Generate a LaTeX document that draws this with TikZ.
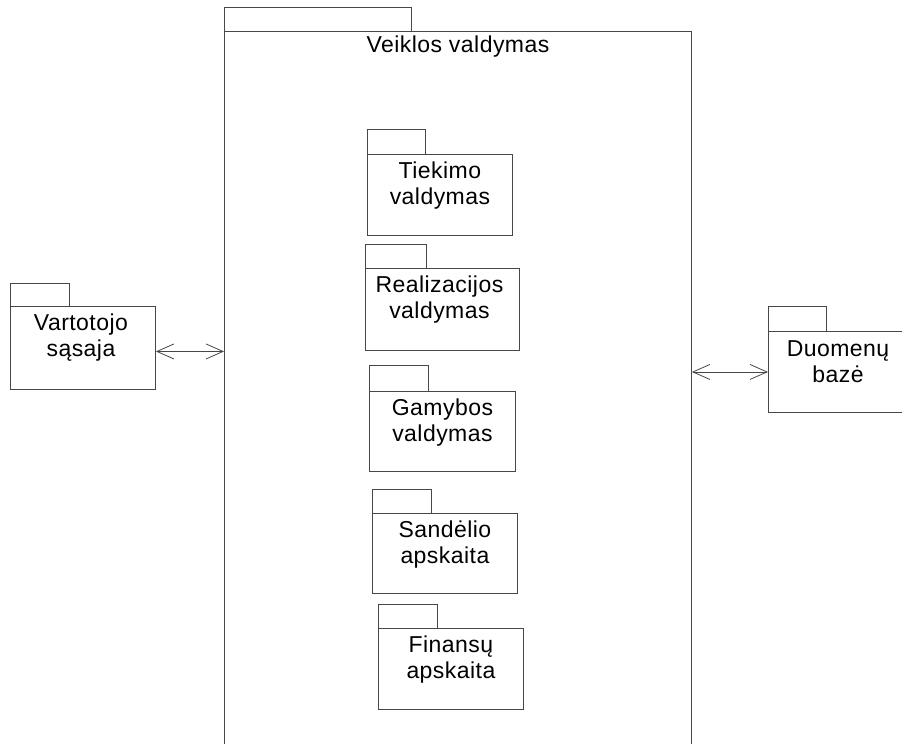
\documentclass[tikz,border=0pt]{standalone}
\usepackage{fontspec}
\setmainfont[LetterSpace=2]{Liberation Sans}
\usetikzlibrary{arrows.meta}
\begin{document}
\begin{tikzpicture}[x=1pt,y=-1pt,
  pkgline/.style={draw=black!72,line width=0.9pt},
  pkgbody/.style={pkgline,rectangle,inner sep=0pt,anchor=north west,fill=white},
  pkgtext/.style={inner sep=0pt,anchor=north,align=center,
    font=\fontsize{23}{26}\selectfont,yshift=-8pt},
  link/.style={draw=black!72,line width=0.8pt,
    {Straight Barb[length=17pt,width=15pt,line width=0.8pt]}-{Straight Barb[length=17pt,width=15pt,line width=0.8pt]}}
]
\useasboundingbox (0,0) rectangle (902,744);
\clip (0,0) rectangle (902,744);
\fill[white] (0,0) rectangle (902,744);

% outer package
\node[pkgbody,minimum width=467pt,minimum height=740pt] (veik) at (224,31) {};
\draw[pkgline] (veik.north west) rectangle ++(187,-24);
\node[pkgtext,yshift=3pt] (veikT) at (veik.north) {Veiklos valdymas};

% side packages
\node[pkgbody,minimum width=145pt,minimum height=83pt] (vart) at (10,306) {};
\draw[pkgline] (vart.north west) rectangle ++(59,-23);
\node[pkgtext,xshift=-2pt] (vartT) at (vart.north) {Vartotojo\\sąsaja};

\node[pkgbody,minimum width=200pt,minimum height=81pt] (duom) at (768,331) {};
\draw[pkgline] (duom.north west) rectangle ++(58,-25);
\node[pkgtext,yshift=-1.5pt] (duomT) at ([xshift=70pt]duom.north west) {Duomenų\\bazė};

% inner packages
\node[pkgbody,minimum width=145pt,minimum height=81pt] (tiek) at (367,154) {};
\draw[pkgline] (tiek.north west) rectangle ++(58,-25);
\node[pkgtext] (tiekT) at (tiek.north) {Tiekimo\\valdymas};

\node[pkgbody,minimum width=154pt,minimum height=82pt] (real) at (365,268) {};
\draw[pkgline] (real.north west) rectangle ++(61,-24);
\node[pkgtext,xshift=-3pt] (realT) at (real.north) {Realizacijos\\valdymas};

\node[pkgbody,minimum width=146pt,minimum height=80pt] (gamy) at (369,391) {};
\draw[pkgline] (gamy.north west) rectangle ++(59,-26);
\node[pkgtext] (gamyT) at (gamy.north) {Gamybos\\valdymas};

\node[pkgbody,minimum width=145pt,minimum height=80pt] (sand) at (372,513) {};
\draw[pkgline] (sand.north west) rectangle ++(59,-24);
\node[pkgtext] (sandT) at (sand.north) {Sandėlio\\apskaita};

\node[pkgbody,minimum width=145pt,minimum height=81pt] (fina) at (378,628) {};
\draw[pkgline] (fina.north west) rectangle ++(59,-24);
\node[pkgtext] (finaT) at (fina.north) {Finansų\\apskaita};

% dependencies
\draw[link] ([yshift=-3.5pt]vart.east) -- ([yshift=-3.5pt]vart.east -| veik.west);
\draw[link] (duom.west -| veik.east) -- (duom.west);
\end{tikzpicture}
\end{document}
